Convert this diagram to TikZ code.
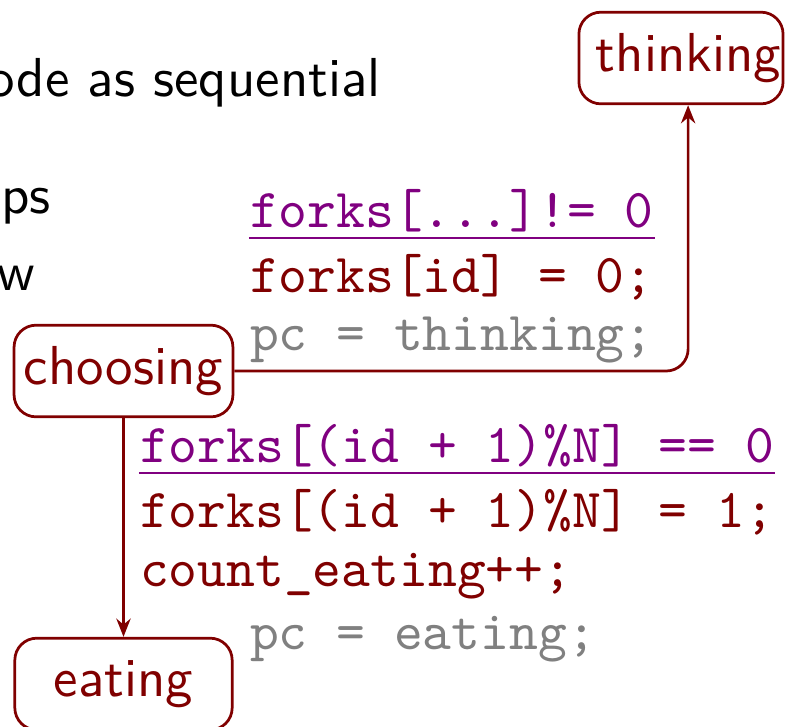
\documentclass[tikz,border=0pt]{standalone}
\usetikzlibrary{arrows.meta}

\definecolor{statered}{RGB}{128,0,0}
\definecolor{guardpurple}{RGB}{128,0,128}
\definecolor{pcgray}{RGB}{128,128,128}

\tikzset{
  statebox/.style={draw=statered, text=statered, rounded corners=4pt,
    line width=0.5pt, minimum width=39.6pt, minimum height=16.7pt, inner sep=1.8pt},
  codeline/.style={font=\ttfamily, anchor=base west, inner sep=0pt},
  guard/.style={codeline, text=guardpurple},
  action/.style={codeline, text=statered},
  pcline/.style={codeline, text=pcgray},
  guardrule/.style={draw=guardpurple, line width=0.5pt},
  trans/.style={draw=statered, line width=0.5pt, rounded corners=4pt,
    -{Stealth[length=3.3pt,width=2.6pt]}},
}

\begin{document}
\begin{tikzpicture}[x=0.1822pt, y=-0.1822pt, font=\sffamily]
  \useasboundingbox (0,0) rectangle (785,726);

  % slide text behind the picture
  \node[anchor=base east, inner sep=0pt] (head) at (382,96) {ode as sequential};
  \node[anchor=base east, inner sep=0pt] (itema) at (52,213) {ps};
  \node[anchor=base east, inner sep=0pt] (itemb) at (36,290) {w};

  % states
  \node[statebox] (choosing) at (123.5,371) {choosing};
  \node[statebox] (eating) at (123.5,684) {eating};
  \node[statebox, minimum width=0pt, text width=36.6pt, align=right, inner xsep=0.3pt]
    (thinking) at (681,58) {thinking};

  % transitions
  \draw[trans] (choosing) -| ([xshift=1.3pt]thinking.south);
  \draw[trans] (choosing) -- (eating);

  % choosing -> thinking
  \node[guard] (guarda) at (249,227) {forks[...]!= 0};
  \draw[guardrule] ([yshift=-2pt]guarda.base west) -- ([yshift=-2pt]guarda.base east);
  \node[action] (acta) at (249,292) {forks[id] = 0;};
  \node[pcline] (pca) at (249,350) {pc = thinking;};

  % choosing -> eating
  \node[guard] (guardb) at (139,462) {forks[(id + 1)\%N] == 0};
  \draw[guardrule] ([yshift=-2pt]guardb.base west) -- ([yshift=-2pt]guardb.base east);
  \node[action] (actb) at (139,527) {forks[(id + 1)\%N] = 1;};
  \node[action] (actc) at (139,586) {count\_eating++;};
  \node[pcline] (pcb) at (249,649) {pc = eating;};
\end{tikzpicture}
\end{document}
